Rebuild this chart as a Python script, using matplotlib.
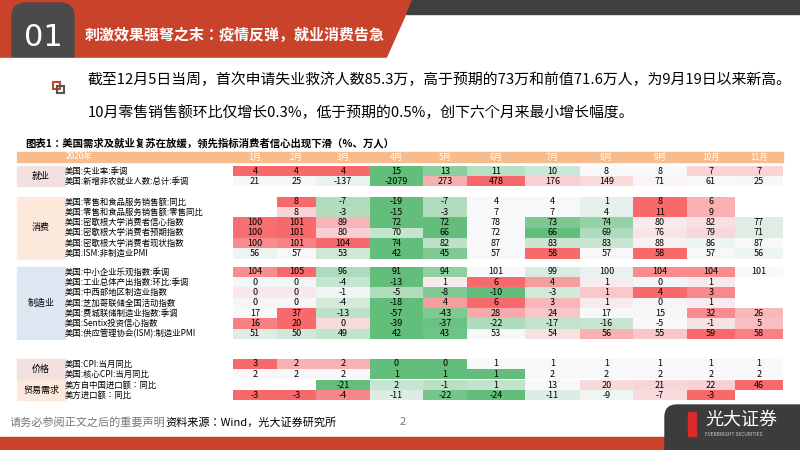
import numpy as np
import matplotlib.pyplot as plt
from matplotlib import font_manager
from matplotlib.patches import Polygon, Rectangle, FancyBboxPatch
from matplotlib.colors import LinearSegmentedColormap

cjk = [f.name for f in font_manager.fontManager.ttflist if 'CJK' in f.name]
cjk_sc = [n for n in cjk if 'SC' in n] or cjk
plt.rcParams['font.family'] = (cjk_sc[:1] or []) + ['DejaVu Sans']

months = ['1月', '2月', '3月', '4月', '5月', '6月', '7月', '8月', '9月', '10月', '11月']

groups = ['就业', '消费', '制造业', '价格', '贸易需求']
group_rows = [
    ['美国:失业率:季调', '美国:新增非农就业人数:总计:季调'],
    ['美国:零售和食品服务销售额:同比', '美国:零售和食品服务销售额:零售同比',
     '美国:密歇根大学消费者信心指数', '美国:密歇根大学消费者预期指数',
     '美国:密歇根大学消费者现状指数', '美国:ISM:非制造业PMI'],
    ['美国:中小企业乐观指数:季调', '美国:工业总体产出指数:环比:季调', '美国:中西部地区制造业指数',
     '美国:芝加哥联储全国活动指数', '美国:费城联储制造业指数:季调', '美国:Sentix投资信心指数',
     '美国:供应管理协会(ISM):制造业PMI'],
    ['美国:CPI:当月同比', '美国:核心CPI:当月同比'],
    ['美方自中国进口额：同比', '美方进口额：同比'],
]
N = np.nan
group_vals = [
    [[4, 4, 4, 15, 13, 11, 10, 8, 8, 7, 7],
     [21, 25, -137, -2079, 273, 478, 176, 149, 71, 61, 25]],
    [[N, 8, -7, -19, -7, 4, 4, 1, 8, 6, N],
     [N, 8, -3, -15, -3, 7, 7, 4, 11, 9, N],
     [100, 101, 89, 72, 72, 78, 73, 74, 80, 82, 77],
     [100, 101, 80, 70, 66, 72, 66, 69, 76, 79, 71],
     [100, 101, 104, 74, 82, 87, 83, 83, 88, 86, 87],
     [56, 57, 53, 42, 45, 57, 58, 57, 58, 57, 56]],
    [[104, 105, 96, 91, 94, 101, 99, 100, 104, 104, 101],
     [0, 0, -4, -13, 1, 6, 4, 1, 0, 1, N],
     [0, 0, -1, -5, -8, -10, -3, 1, 4, 3, N],
     [0, 0, -4, -18, 4, 6, 3, 1, 0, 1, N],
     [17, 37, -13, -57, -43, 28, 24, 17, 15, 32, 26],
     [16, 20, 0, -39, -37, -22, -17, -16, -5, -1, 5],
     [51, 50, 49, 42, 43, 53, 54, 56, 55, 59, 58]],
    [[3, 2, 2, 0, 0, 1, 1, 1, 1, 1, 1],
     [2, 2, 2, 1, 1, 1, 2, 2, 2, 2, 2]],
    [[N, N, -21, 2, -1, 1, 13, 20, 21, 22, 46],
     [-3, -3, -4, -11, -22, -24, -11, -9, -7, -3, N]],
]
group_colors = ['#f3e1e2', '#fde9dc', '#dde7f1', '#f3e1e2', '#fde9dc']
# y of first row for each group (pixel)
group_y0 = [171, 202, 272, 364, 385]
row_h = 10.3
col_edges = [233, 277, 316, 370, 423, 467, 525, 580, 633, 687, 735, 783]

cmap = LinearSegmentedColormap.from_list('rg', ['#63be7b', '#f8f8fb', '#f8696b'])

fig = plt.figure(figsize=(8, 4.5), dpi=100)
ax = fig.add_axes([0, 0, 1, 1])
ax.set_xlim(0, 800)
ax.set_ylim(450, 0)
ax.axis('off')

# header band
ax.add_patch(Polygon([[0, 0], [412, 0], [386, 58], [0, 58]], color='#c8432a'))
ax.add_patch(Polygon([[412, 0], [800, 0], [800, 14], [406, 14]], color='#3f3f3f'))
ax.add_patch(FancyBboxPatch((12, 3), 62, 80, boxstyle='round,pad=0,rounding_size=14', color='#4a4a4a'))
ax.add_patch(Rectangle((0, 58), 400, 30, color='white'))
ax.text(43, 37, '01', color='white', fontsize=22, ha='center', va='center', family='DejaVu Sans')
ax.text(85, 35, '刺激效果强弩之末：疫情反弹，就业消费告急', color='white', fontsize=10.8, va='center',
        fontweight='bold')

ax.add_patch(Rectangle((53, 82), 7, 7, fill=False, ec='#c8432a', lw=1.5))
ax.add_patch(Rectangle((57, 86), 7, 7, fill=False, ec='#555555', lw=1.5))
ax.text(88, 80, '截至12月5日当周，首次申请失业救济人数85.3万，高于预期的73万和前值71.6万人，为9月19日以来新高。',
        fontsize=10.7, va='center')
ax.text(88, 113, '10月零售销售额环比仅增长0.3%，低于预期的0.5%，创下六个月来最小增长幅度。',
        fontsize=10.7, va='center')
ax.text(25, 143, '图表1：美国需求及就业复苏在放缓，领先指标消费者信心出现下滑（%、万人）', fontsize=7.5,
        va='center', fontweight='bold')

# table header
ax.add_patch(Rectangle((17, 152), 766, 10, color='#f7bb8c'))
ax.text(66, 157, '2020年', color='white', fontsize=6, va='center')
for i, m in enumerate(months):
    ax.text((col_edges[i] + col_edges[i + 1]) / 2, 157, m, color='white', fontsize=6,
            ha='center', va='center')

for g, name in enumerate(groups):
    rows = group_rows[g]
    vals = group_vals[g]
    y0 = group_y0[g] - row_h / 2
    ax.add_patch(Rectangle((17, y0), 48, row_h * len(rows), color=group_colors[g]))
    ax.text(41, y0 + row_h * len(rows) / 2, name, fontsize=6.5, ha='center', va='center')
    for r, (label, v) in enumerate(zip(rows, vals)):
        yc = group_y0[g] + r * row_h
        ax.text(65, yc, label, fontsize=6, va='center')
        arr = np.array(v, dtype=float)
        sign = -1 if label == '美国:失业率:季调' else 1
        med = np.nanmedian(arr)
        lo, hi = np.nanmin(arr), np.nanmax(arr)
        for c, x in enumerate(arr):
            if np.isnan(x):
                continue
            if x >= med:
                t = 0.5 + 0.5 * (x - med) / (hi - med) if hi > med else 0.5
            else:
                t = 0.5 - 0.5 * (med - x) / (med - lo) if med > lo else 0.5
            if sign < 0:
                t = 1 - t
            ax.add_patch(Rectangle((col_edges[c], yc - row_h / 2), col_edges[c + 1] - col_edges[c],
                                   row_h, color=cmap(t), lw=0))
            ax.text((col_edges[c] + col_edges[c + 1]) / 2, yc, '%d' % x, fontsize=6.5,
                    ha='center', va='center')

# footer
ax.text(10, 422, '请务必参阅正文之后的重要声明', fontsize=8, color='#777777', va='center')
ax.text(165, 422, '资料来源：Wind，光大证券研究所', fontsize=8, va='center')
ax.text(400, 422, '2', fontsize=8, color='#777777', va='center')
ax.add_patch(Rectangle((0, 437), 800, 13, color='#c8432a'))
ax.add_patch(FancyBboxPatch((665, 405), 150, 60, boxstyle='round,pad=0,rounding_size=12', color='#3c3c3c'))
ax.add_patch(Rectangle((688, 412), 8, 24, color='#d92b2b'))
ax.text(705, 420, '光大证券', color='white', fontsize=13, va='center')
ax.text(705, 434, 'EVERBRIGHT SECURITIES', color='#cccccc', fontsize=3.5, va='center')

plt.savefig('out.png', dpi=100)
